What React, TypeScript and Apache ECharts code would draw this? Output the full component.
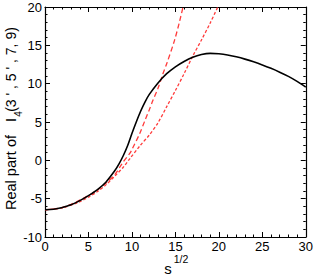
import React, { useEffect, useRef } from "react";
import * as echarts from "echarts";

const xTicks = [0, 5, 10, 15, 20, 25, 30];
const yTicks = [-10, -5, 0, 5, 10, 15, 20];

const fullX = [0, 1, 2, 3, 4, 5, 6, 7, 8, 8.5, 9, 9.5, 10, 10.5, 11, 11.5, 12, 13, 14, 15, 16, 17, 18, 19, 20, 21, 22, 23, 24, 25, 26, 27, 28, 29, 30];
const fullY = [-6.45, -6.38, -6.15, -5.8, -5.25, -4.6, -3.85, -2.85, -1.4, -0.5, 0.6, 1.9, 3.5, 5.0, 6.4, 7.6, 8.6, 10.1, 11.3, 12.2, 12.9, 13.45, 13.8, 13.95, 13.9, 13.75, 13.5, 13.2, 12.85, 12.45, 12.0, 11.5, 10.95, 10.3, 9.55];

const approxAX = [0, 2, 4, 5, 6, 7, 8, 8.6, 9, 9.75, 10, 10.9, 11.5, 12, 12.42, 13, 13.57, 14, 14.9, 15.5, 16];
const approxAY = [-6.45, -6.15, -5.2, -4.6, -3.9, -3.0, -1.9, -0.9, -0.2, 0.9, 1.4, 3.5, 5.2, 6.6, 7.83, 9.4, 11.3, 12.6, 15.65, 18.2, 20.6];

const approxBX = [0, 2, 4, 5, 6, 7, 8, 9, 9.75, 11, 12, 13, 14, 15, 16, 17, 18, 19, 20];
const approxBY = [-6.45, -6.2, -5.4, -4.8, -4.1, -3.2, -2.1, -0.9, 0.2, 2.0, 3.3, 4.9, 7.0, 9.1, 11.3, 13.6, 15.7, 17.9, 20.3];

const pairs = (xs: number[], ys: number[]) => xs.map((x, i) => [x, ys[i]]);

const FONT = "Liberation Sans, Arial, Helvetica, sans-serif";

export default function App() {
  const ref = useRef<HTMLDivElement>(null);
  useEffect(() => {
    if (!ref.current) return;
    const chart = echarts.init(ref.current, undefined, { renderer: "svg" });
    const axisLine = { show: true, onZero: false, lineStyle: { color: "#000", width: 1.2 } };
    const tick = { show: true, inside: true, length: 5, lineStyle: { color: "#000", width: 1 } };
    const minor = { show: true, splitNumber: 5, length: 2.5, lineStyle: { color: "#000", width: 1 } };
    const xBase = {
      type: "value" as const,
      min: 0,
      max: 30,
      interval: 5,
      axisLine,
      axisTick: tick,
      minorTick: minor,
      splitLine: { show: false },
    };
    const yBase = {
      type: "value" as const,
      min: -10,
      max: 20,
      interval: 5,
      axisLine,
      axisTick: tick,
      minorTick: minor,
      splitLine: { show: false },
    };
    chart.setOption({
      animation: false,
      backgroundColor: "#fff",
      grid: { left: 45, right: 9, top: 7, bottom: 38, containLabel: false },
      xAxis: [
        {
          ...xBase,
          position: "bottom",
          axisLabel: { show: true, margin: 3, color: "#000", fontSize: 13, fontFamily: FONT },
        },
        { ...xBase, position: "top", axisLabel: { show: false } },
      ],
      yAxis: [
        {
          ...yBase,
          position: "left",
          axisLabel: { show: true, margin: 3, color: "#000", fontSize: 13, fontFamily: FONT },
        },
        { ...yBase, position: "right", axisLabel: { show: false } },
      ],
      series: [
        {
          type: "line",
          data: pairs(approxBX, approxBY),
          showSymbol: false,
          smooth: 0.3,
          lineStyle: { color: "#ff3b3b", width: 1.3, type: [3, 2] },
        },
        {
          type: "line",
          data: pairs(approxAX, approxAY),
          showSymbol: false,
          smooth: 0.3,
          lineStyle: { color: "#ff3b3b", width: 1.3, type: [5, 3] },
        },
        {
          type: "line",
          data: pairs(fullX, fullY),
          showSymbol: false,
          smooth: 0.3,
          lineStyle: { color: "#000", width: 1.6 },
        },
      ],
      graphic: [
        { type: "text", x: 168, y: 268, style: { text: "s", font: `15px ${FONT}`, fill: "#000", align: "center", verticalAlign: "middle" } },
        { type: "text", x: 181, y: 259, style: { text: "1/2", font: `10.5px ${FONT}`, fill: "#000", align: "center", verticalAlign: "middle" } },
        { type: "text", x: 11, y: 172.5, rotation: Math.PI / 2, style: { text: "Real part of", font: `14.5px ${FONT}`, fill: "#000", align: "center", verticalAlign: "middle" } },
        { type: "text", x: 11, y: 120, rotation: Math.PI / 2, style: { text: "I", font: `14.5px ${FONT}`, fill: "#000", align: "center", verticalAlign: "middle" } },
        { type: "text", x: 18, y: 114, rotation: Math.PI / 2, style: { text: "4", font: `10px ${FONT}`, fill: "#000", align: "center", verticalAlign: "middle" } },
        { type: "text", x: 11, y: 69.5, rotation: Math.PI / 2, style: { text: "(3 ' , 5 ' , 7, 9)", font: `14px ${FONT}`, fill: "#000", align: "center", verticalAlign: "middle" } },
      ],
    });
    return () => chart.dispose();
  }, []);
  return <div ref={ref} style={{ position: "fixed", left: 0, top: 0, width: 316, height: 275 }} />;
}
